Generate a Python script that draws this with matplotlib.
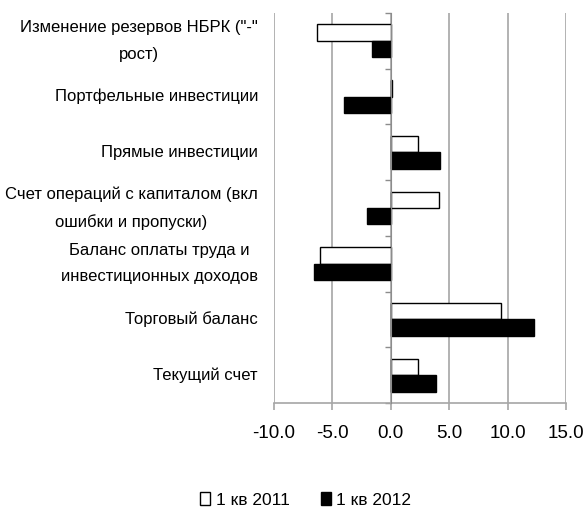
import numpy as np
import matplotlib
matplotlib.use("Agg")
import matplotlib.pyplot as plt
import matplotlib.transforms as mtransforms
from matplotlib.patches import Patch

# Categories from bottom to top
categories = [
    "Текущий счет",
    "Торговый баланс",
    "Баланс оплаты труда и\nинвестиционных доходов",
    "Счет операций с капиталом (вкл\nошибки и пропуски)",
    "Прямые инвестиции",
    "Портфельные инвестиции",
    "Изменение резервов НБРК (\"-\"\nрост)",
]
q1_2011 = [2.3, 9.4, -6.1, 4.1, 2.3, 0.1, -6.3]
q1_2012 = [3.9, 12.3, -6.6, -2.0, 4.2, -4.0, -1.6]
xticks = [-10.0, -5.0, 0.0, 5.0, 10.0, 15.0]

plt.rcParams["font.family"] = ["Liberation Sans", "DejaVu Sans"]

fig = plt.figure(figsize=(5.88, 5.19), dpi=100)
ax = fig.add_axes([0.466, 0.2235, 0.4966, 0.7515])

y = np.arange(len(categories))
h = 0.295
ax.barh(y + h / 2, q1_2011, height=h, color="white", edgecolor="black",
        linewidth=1.0, label="1 кв 2011", zorder=3)
ax.barh(y - h / 2, q1_2012, height=h, color="black", edgecolor="black",
        linewidth=1.0, label="1 кв 2012", zorder=3)

ax.set_xlim(-10, 15)
ax.set_ylim(-0.5, len(categories) - 0.5)
ax.set_xticks(xticks)
ax.set_xticklabels([f"{v:.1f}" for v in xticks], fontsize=13.5)
ax.xaxis.grid(True, color="#a6a6a6", linewidth=1.2, zorder=0)
ax.tick_params(axis="x", length=5, color="#a6a6a6", width=1.2, pad=11)

# category axis crosses at zero
for s in ["top", "right"]:
    ax.spines[s].set_visible(False)
ax.spines["left"].set_position(("data", 0))
ax.spines["left"].set_color("#8c8c8c")
ax.spines["left"].set_zorder(4)
ax.spines["bottom"].set_color("#a6a6a6")
ax.spines["bottom"].set_linewidth(1.2)
ax.set_yticks(np.arange(len(categories) + 1) - 0.5)
ax.set_yticklabels([])
ax.tick_params(axis="y", length=4, color="#8c8c8c", width=1.0)

trans = mtransforms.blended_transform_factory(ax.transAxes, ax.transData)
for yi, name in zip(y, categories):
    ax.text(-0.055, yi, name, transform=trans, ha="right", va="center",
            fontsize=12, linespacing=1.95, multialignment="center")

handles = [Patch(facecolor="white", edgecolor="black", linewidth=1.0),
           Patch(facecolor="black", edgecolor="black", linewidth=1.0)]
fig.legend(handles, ["1 кв 2011", "1 кв 2012"], loc="center",
           bbox_to_anchor=(0.52, 0.037), ncol=2, frameon=False, fontsize=12.5,
           handlelength=0.6, handleheight=0.8, handletextpad=0.3,
           columnspacing=1.8)

fig.savefig("out.png", dpi=100)
